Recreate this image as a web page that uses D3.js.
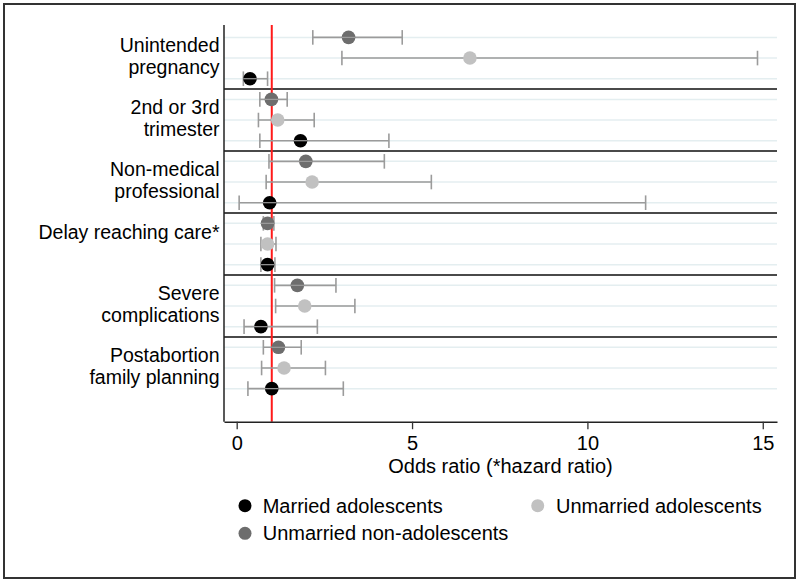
<!DOCTYPE html>
<html>
<head>
<meta charset="utf-8">
<script src="https://cdn.jsdelivr.net/npm/d3@7"></script>
<style>
  html, body { margin: 0; padding: 0; background: #fff; }
  svg { display: block; font-family: "Liberation Sans", Arial, sans-serif; }
</style>
</head>
<body>
<svg id="chart" width="800" height="584"></svg>
<script>
// ---- data ----
const categories = [
  ["Unintended", "pregnancy"],
  ["2nd or 3rd", "trimester"],
  ["Non-medical", "professional"],
  ["Delay reaching care*"],
  ["Severe", "complications"],
  ["Postabortion", "family planning"]
];
const seriesNames = ["Unmarried non-adolescents", "Unmarried adolescents", "Married adolescents"];
const seriesColors = ["#6d6d6d", "#c1c1c1", "#000000"];
// per category, per series: estimate, lower CI, upper CI
const unmarriedNonAdol = [
  [3.19, 2.17, 4.72],
  [0.99, 0.66, 1.44],
  [1.97, 0.92, 4.21],
  [0.88, 0.76, 1.06],
  [1.73, 1.08, 2.83],
  [1.19, 0.76, 1.84]
];
const unmarriedAdol = [
  [6.65, 3.00, 14.85],
  [1.17, 0.62, 2.21],
  [2.15, 0.84, 5.55],
  [0.88, 0.69, 1.12],
  [1.94, 1.11, 3.37],
  [1.35, 0.71, 2.53]
];
const marriedAdol = [
  [0.38, 0.19, 0.88],
  [1.82, 0.66, 4.34],
  [0.94, 0.07, 11.66],
  [0.88, 0.69, 1.09],
  [0.69, 0.21, 2.30],
  [1.00, 0.32, 3.04]
];
const xTicks = [0, 5, 10, 15];
const refValue = 1;
const xTitle = "Odds ratio (*hazard ratio)";
const legendOrder = [
  {name: "Married adolescents", color: "#000000"},
  {name: "Unmarried adolescents", color: "#c1c1c1"},
  {name: "Unmarried non-adolescents", color: "#6d6d6d"}
];

(function () {
  const FS = 20;
  const LFS = 19.5;
  const svg = d3.select("#chart");
  const pLeft = 224, pRight = 777, pTop = 25, pBottom = 421.7;
  const x = d3.scaleLinear().domain([-0.362, 15.406]).range([pLeft, pRight]);
  const y = d3.scaleLinear().domain([-0.6, 18.6]).range([pTop, pBottom]);

  svg.append("rect").attr("x", 0).attr("y", 0).attr("width", 800).attr("height", 584).attr("fill", "#fff");
  svg.append("rect").attr("x", 4).attr("y", 4).attr("width", 791).attr("height", 574)
    .attr("fill", "none").attr("stroke", "#333").attr("stroke-width", 2);

  const allSeries = [unmarriedNonAdol, unmarriedAdol, marriedAdol];
  const rows = [];
  categories.forEach((c, ci) => {
    allSeries.forEach((s, si) => {
      rows.push({ci, si, idx: ci * 3 + si, est: s[ci][0], lo: s[ci][1], hi: s[ci][2], color: seriesColors[si]});
    });
  });

  // gridlines
  svg.append("g").selectAll("line").data(rows).join("line")
    .attr("x1", pLeft).attr("x2", pRight)
    .attr("y1", d => y(d.idx)).attr("y2", d => y(d.idx))
    .attr("stroke", "#e4eef0").attr("stroke-width", 1.5);

  // separators
  const seps = d3.range(1, categories.length).map(k => k * 3 - 0.5);
  svg.append("g").selectAll("line").data(seps).join("line")
    .attr("x1", pLeft).attr("x2", pRight)
    .attr("y1", d => y(d)).attr("y2", d => y(d))
    .attr("stroke", "#4a4a4a").attr("stroke-width", 2);

  // reference line
  svg.append("line").attr("x1", x(refValue)).attr("x2", x(refValue))
    .attr("y1", pTop).attr("y2", pBottom).attr("stroke", "#ff1a1a").attr("stroke-width", 2);

  const ciColor = "#9b9b9b";
  const capH = 7.3;
  const ciG = svg.append("g");
  ciG.selectAll("line.h").data(rows).join("line").attr("class", "h")
    .attr("x1", d => x(d.lo)).attr("x2", d => x(d.hi))
    .attr("y1", d => y(d.idx)).attr("y2", d => y(d.idx))
    .attr("stroke", ciColor).attr("stroke-width", 1.6);
  ciG.selectAll("line.cl").data(rows).join("line").attr("class", "cl")
    .attr("x1", d => x(d.lo)).attr("x2", d => x(d.lo))
    .attr("y1", d => y(d.idx) - capH).attr("y2", d => y(d.idx) + capH)
    .attr("stroke", ciColor).attr("stroke-width", 1.6);
  ciG.selectAll("line.ch").data(rows).join("line").attr("class", "ch")
    .attr("x1", d => x(d.hi)).attr("x2", d => x(d.hi))
    .attr("y1", d => y(d.idx) - capH).attr("y2", d => y(d.idx) + capH)
    .attr("stroke", ciColor).attr("stroke-width", 1.6);

  // markers
  svg.append("g").selectAll("circle").data(rows).join("circle")
    .attr("cx", d => x(d.est)).attr("cy", d => y(d.idx)).attr("r", 6.8)
    .attr("fill", d => d.color);

  // thin CI line over dark markers
  svg.append("g").selectAll("line").data(rows.filter(d => d.si !== 1)).join("line")
    .attr("x1", d => x(d.est) - 6.8).attr("x2", d => x(d.est) + 6.8)
    .attr("y1", d => y(d.idx)).attr("y2", d => y(d.idx))
    .attr("stroke", ciColor).attr("stroke-width", 1.2);

  // category labels
  const labG = svg.append("g").attr("font-size", LFS).attr("fill", "#000").attr("text-anchor", "end");
  categories.forEach((lines, ci) => {
    const mid = y(ci * 3 + 1);
    if (lines.length === 1) {
      labG.append("text").attr("x", 219.5).attr("y", mid - 4.8).text(lines[0]);
    } else {
      lines.forEach((s, li) => {
        labG.append("text").attr("x", 219.5).attr("y", mid - 6.4 + li * 22).text(s);
      });
    }
  });

  // left axis line
  svg.append("line").attr("x1", pLeft).attr("x2", pLeft).attr("y1", pTop).attr("y2", pBottom)
    .attr("stroke", "#222").attr("stroke-width", 1.5);

  // bottom axis
  const xAxis = svg.append("g").attr("transform", `translate(0,${pBottom})`)
    .call(d3.axisBottom(x).tickValues(xTicks).tickSize(7.5).tickPadding(7).tickSizeOuter(0));
  xAxis.select(".domain").attr("stroke", "#222").attr("stroke-width", 1.5);
  xAxis.selectAll(".tick line").attr("stroke", "#333").attr("stroke-width", 1.3);
  xAxis.selectAll(".tick text").attr("font-size", FS).attr("fill", "#000")
    .attr("font-family", "Liberation Sans, Arial, sans-serif");

  svg.append("text").attr("x", (pLeft + pRight) / 2).attr("y", 473.3).attr("text-anchor", "middle")
    .attr("font-size", FS).attr("fill", "#000").text(xTitle);

  // legend
  const legPos = [
    {cx: 245, cy: 505.7, tx: 262.7, ty: 512.5},
    {cx: 537.7, cy: 505.7, tx: 556, ty: 512.5},
    {cx: 245, cy: 533.3, tx: 262.7, ty: 540}
  ];
  const leg = svg.append("g");
  legendOrder.forEach((d, i) => {
    const p = legPos[i];
    leg.append("circle").attr("cx", p.cx).attr("cy", p.cy).attr("r", 6.5).attr("fill", d.color);
    leg.append("text").attr("x", p.tx).attr("y", p.ty).attr("font-size", FS).attr("fill", "#000").text(d.name);
  });
})();
</script>
</body>
</html>
